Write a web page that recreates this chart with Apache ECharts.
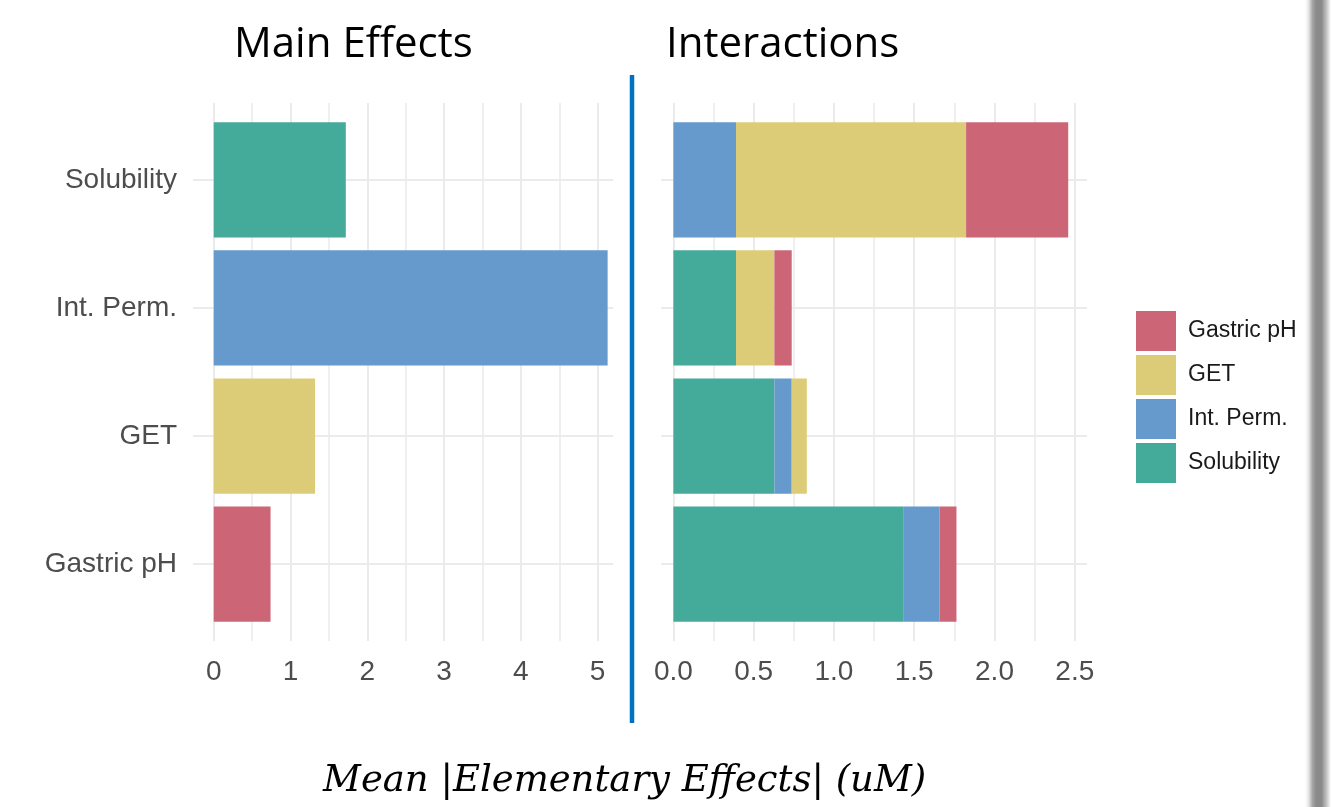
<!DOCTYPE html>
<html>
<head>
<meta charset="utf-8">
<script src="https://cdn.jsdelivr.net/npm/echarts@6/dist/echarts.min.js"></script>
<style>
  html, body { margin: 0; background: #fff; }
  #main { width: 1340px; height: 807px; }
</style>
</head>
<body>
<div id="main"></div>
<script>
// categories, bottom to top as in the figure
const categories = ["Gastric pH", "GET", "Int. Perm.", "Solubility"];
// main effects (uM)
const mainEffects = [0.74, 1.32, 5.13, 1.72];
// interaction segments, one array per colour, one value per category row
const interSolubility = [1.431, 0.629, 0.39, 0];
const interIntPerm = [0.226, 0.108, 0, 0.39];
const interGET = [0, 0.094, 0.239, 1.433];
const interGastricPH = [0.106, 0, 0.108, 0.636];
const legendOrder = ["Gastric pH", "GET", "Int. Perm.", "Solubility"];

const palette = {
  "Gastric pH": "#CC6677",
  "GET": "#DDCC77",
  "Int. Perm.": "#6699CC",
  "Solubility": "#44AA99",
};

const gridColor = "#EBEBEB";
const textGrey = "#4D4D4D";
const sansFont = "Liberation Sans";

// value axis that only draws the panel grid lines (and tick labels)
const bgXAxis = (gridIndex, min, max, fmt) => ({
  type: "value",
  gridIndex: gridIndex,
  min: min,
  max: max,
  axisLine: { show: false },
  axisTick: { show: false },
  axisLabel: {
    fontFamily: sansFont,
    fontSize: 28,
    color: textGrey,
    margin: 17,
    showMinLabel: false,
    showMaxLabel: false,
    formatter: fmt,
  },
  splitLine: {
    show: true,
    showMinLine: false,
    showMaxLine: false,
    lineStyle: { color: gridColor, width: 2 },
  },
  minorTick: { show: false, splitNumber: 2 },
  minorSplitLine: { show: true, lineStyle: { color: gridColor, width: 1.6 } },
});

const bgYAxis = (gridIndex) => ({
  type: "value",
  gridIndex: gridIndex,
  min: 0.4,
  max: 4.6,
  axisLine: { show: false },
  axisTick: { show: false },
  axisLabel: { show: false },
  splitLine: {
    show: true,
    showMinLine: false,
    showMaxLine: false,
    lineStyle: { color: gridColor, width: 2 },
  },
});

const barXAxis = (gridIndex, min, max) => ({
  type: "value",
  gridIndex: gridIndex,
  min: min,
  max: max,
  show: false,
  splitLine: { show: false },
});

const barYAxis = (gridIndex, showLabels) => ({
  type: "category",
  gridIndex: gridIndex,
  data: categories,
  axisLine: { show: false },
  axisTick: { show: false },
  splitLine: { show: false },
  axisLabel: {
    show: showLabels,
    fontFamily: sansFont,
    fontSize: 28,
    color: textGrey,
    margin: 16,
    padding: [8, 0, 0, 0],
  },
});

const interSeries = (name, values) => ({
  name: name,
  type: "bar",
  stack: "inter",
  xAxisIndex: 3,
  yAxisIndex: 3,
  barWidth: "90%",
  itemStyle: { color: palette[name] },
  data: values,
});

const headStyle = {
  fontFamily: "Open Sans",
  fontSize: 42,
  lineHeight: 44,
  fontWeight: "normal",
  color: "#000",
};

const option = {
  animation: false,
  backgroundColor: "#fff",
  title: [
    { text: "Main Effects", left: 229, top: 18, textStyle: headStyle },
    { text: "Interactions", left: 661, top: 18, textStyle: headStyle },
    {
      text: "Mean |Elementary Effects| (uM)",
      left: 318,
      top: 756,
      textStyle: {
        fontFamily: "DejaVu Serif",
        fontStyle: "italic",
        fontSize: 37,
        lineHeight: 40,
        fontWeight: "normal",
        color: "#000",
      },
    },
  ],
  legend: {
    data: legendOrder,
    orient: "vertical",
    left: 1131,
    top: 306,
    icon: "rect",
    itemWidth: 40,
    itemHeight: 40,
    itemGap: 4,
    textStyle: {
      fontFamily: sansFont,
      fontSize: 23,
      color: "#1a1a1a",
      padding: [0, 0, 0, 7],
    },
  },
  grid: [
    { left: 193, top: 103, width: 420, height: 538 },
    { left: 193, top: 115.8, width: 420, height: 512.4 },
    { left: 661, top: 103, width: 426, height: 538 },
    { left: 661, top: 115.8, width: 426, height: 512.4 },
  ],
  xAxis: [
    bgXAxis(0, -0.27, 5.2, (v) => String(v)),
    barXAxis(1, -0.27, 5.2),
    bgXAxis(2, -0.077, 2.576, (v) => v.toFixed(1)),
    barXAxis(3, -0.077, 2.576),
  ],
  yAxis: [bgYAxis(0), barYAxis(1, true), bgYAxis(2), barYAxis(3, false)],
  series: [
    {
      name: "Main effects",
      type: "bar",
      xAxisIndex: 1,
      yAxisIndex: 1,
      barWidth: "90%",
      data: mainEffects.map((v, i) => ({
        value: v,
        itemStyle: { color: palette[categories[i]] },
      })),
    },
    interSeries("Solubility", interSolubility),
    interSeries("Int. Perm.", interIntPerm),
    interSeries("GET", interGET),
    interSeries("Gastric pH", interGastricPH),
  ],
  graphic: [
    // blue divider between the two panels
    {
      type: "line",
      shape: { x1: 632, y1: 75, x2: 632, y2: 723 },
      style: { stroke: "#0070C0", lineWidth: 4.5 },
      z: 10,
    },
    // slide shadow on the right edge
    {
      type: "rect",
      shape: { x: 1304, y: 0, width: 27, height: 807 },
      style: {
        fill: {
          type: "linear",
          x: 0, y: 0, x2: 1, y2: 0,
          colorStops: [
            { offset: 0, color: "rgba(255,255,255,0)" },
            { offset: 0.3, color: "#a8a8a8" },
            { offset: 0.45, color: "#8a8a8a" },
            { offset: 0.65, color: "#8a8a8a" },
            { offset: 0.85, color: "#c8c8c8" },
            { offset: 1, color: "#ffffff" },
          ],
        },
      },
      z: 10,
    },
  ],
};

const chart = echarts.init(document.getElementById("main"));
chart.setOption(option);
window.addEventListener("resize", () => chart.resize());
</script>
</body>
</html>
